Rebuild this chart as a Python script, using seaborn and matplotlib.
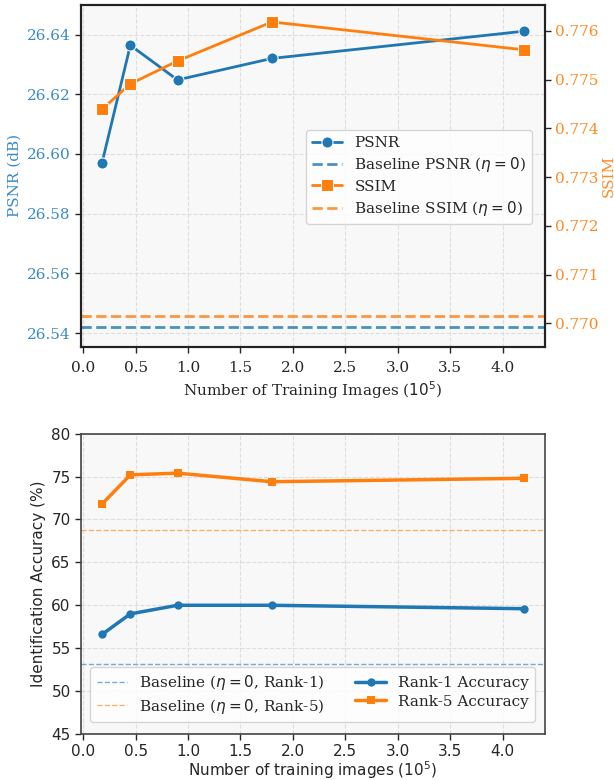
import numpy as np
import pandas as pd
import matplotlib
matplotlib.use("Agg")
import matplotlib.pyplot as plt
import seaborn as sns

# Datos
imagenes = [0.18, 0.45, 0.9, 1.8, 4.2]          # numero de imagenes (1e5)
psnr = [26.597, 26.6364, 26.6248, 26.632, 26.6411]
ssim = [0.77439, 0.77491, 0.77538, 0.77618, 0.77561]
psnr_base = 26.5422
ssim_base = 0.77016

rank1 = [56.6, 59.0, 60.0, 60.0, 59.6]
rank5 = [71.8, 75.2, 75.4, 74.4, 74.8]
rank1_base = 53.2
rank5_base = 68.8

azul = "#1f77b4"
naranja = "#ff7f0e"

sns.set_style("whitegrid")
plt.rcParams["font.family"] = ["DejaVu Sans"]

fig = plt.figure(figsize=(6.14, 7.8), dpi=100)
ax1 = fig.add_axes([0.132, 0.555, 0.755, 0.439])
ax3 = fig.add_axes([0.132, 0.059, 0.755, 0.385])

df_top = pd.DataFrame({"x": imagenes, "psnr": psnr, "ssim": ssim})
df_bot = pd.DataFrame({"x": imagenes, "r1": rank1, "r5": rank5})

# ---- panel superior (serif) ----
serif = {"family": "DejaVu Serif", "size": 11}
ax1.set_facecolor("#f8f8f8")
ax2 = ax1.twinx()
sns.lineplot(data=df_top, x="x", y="psnr", ax=ax1, color=azul, marker="o",
             markersize=8, linewidth=2, legend=False)
h_bp = ax1.axhline(psnr_base, color=azul, ls="--", lw=2, alpha=0.8)
sns.lineplot(data=df_top, x="x", y="ssim", ax=ax2, color=naranja, marker="s",
             markersize=8, linewidth=2, legend=False)
h_bs = ax2.axhline(ssim_base, color=naranja, ls="--", lw=2, alpha=0.8)

ax1.set_xlim(-0.02, 4.4)
ax1.set_ylim(26.5353, 26.650)
ax2.set_ylim(0.769514, 0.776534)
psnr_ticks = [26.54, 26.56, 26.58, 26.60, 26.62, 26.64]
ax1.set_yticks(psnr_ticks)
ax1.set_yticklabels([f"{v:.2f}" for v in psnr_ticks], fontdict=serif, color="#3a8ac6")
ssim_ticks = [0.770, 0.771, 0.772, 0.773, 0.774, 0.775, 0.776]
ax2.set_yticks(ssim_ticks)
ax2.set_yticklabels([f"{v:.3f}" for v in ssim_ticks], fontdict=serif, color="#ff8a24")
xt = np.arange(0, 4.01, 0.5)
ax1.set_xticks(xt)
ax1.set_xticklabels([f"{v:.1f}" for v in xt], fontdict=serif)
ax1.set_xlabel(r"Number of Training Images ($10^5$)", fontdict=serif, labelpad=3)
ax1.set_ylabel("PSNR (dB)", fontdict=serif, color="#3a8ac6")
ax2.set_ylabel("SSIM", fontdict=serif, color="#ff8a24", labelpad=2)
ax1.grid(True, ls="--", color="#dddddd", lw=0.8)
ax2.grid(False)
ax1.tick_params(direction="out", length=4, width=1, left=True, bottom=True, right=False)
ax1.tick_params(axis="x", pad=6)
ax2.tick_params(direction="out", length=4, width=1, right=True, left=False, bottom=False)
for ax in (ax1, ax2):
    for s in ax.spines.values():
        s.set_color("#222222")
        s.set_linewidth(1.5)

handles = [ax1.get_lines()[0], h_bp, ax2.get_lines()[0], h_bs]
labels = ["PSNR", r"Baseline PSNR ($\eta=0$)", "SSIM", r"Baseline SSIM ($\eta=0$)"]
ax2.legend(handles, labels, loc="center right", bbox_to_anchor=(0.99, 0.497),
           prop=serif, frameon=True, facecolor="white", edgecolor="#cccccc",
           labelspacing=0.35)

# ---- panel inferior ----
ax3.set_facecolor("#f8f8f8")
b1 = ax3.axhline(rank1_base, color=azul, ls="--", lw=1, alpha=0.6)
b5 = ax3.axhline(rank5_base, color=naranja, ls="--", lw=1, alpha=0.6)
sns.lineplot(data=df_bot, x="x", y="r1", ax=ax3, color=azul, marker="o",
             markersize=6, linewidth=2.5, markeredgewidth=0, legend=False)
sns.lineplot(data=df_bot, x="x", y="r5", ax=ax3, color=naranja, marker="s",
             markersize=6, linewidth=2.5, markeredgewidth=0, legend=False)
ax3.set_xlim(-0.02, 4.4)
ax3.set_ylim(45, 80)
ax3.set_xticks(xt)
ax3.set_xticklabels([f"{v:.1f}" for v in xt])
ax3.set_yticks(range(45, 81, 5))
ax3.tick_params(labelsize=11, direction="out", length=4, width=1, left=True, bottom=True)
ax3.set_xlabel(r"Number of training images ($10^5$)", fontsize=11, labelpad=0)
ax3.set_ylabel("Identification Accuracy (%)", fontsize=11)
ax3.grid(True, ls="--", color="#dddddd", lw=0.8)
for s in ax3.spines.values():
    s.set_color("#444444")
    s.set_linewidth(1.2)
lines3 = ax3.get_lines()
ax3.legend([b1, b5, lines3[2], lines3[3]],
           [r"Baseline ($\eta=0$, Rank-1)", r"Baseline ($\eta=0$, Rank-5)",
            "Rank-1 Accuracy", "Rank-5 Accuracy"],
           loc="lower center", ncol=2, prop=serif, frameon=True,
           facecolor="white", edgecolor="#cccccc", bbox_to_anchor=(0.5, 0.015),
           labelspacing=0.3)

fig.savefig("out.png", dpi=100)
